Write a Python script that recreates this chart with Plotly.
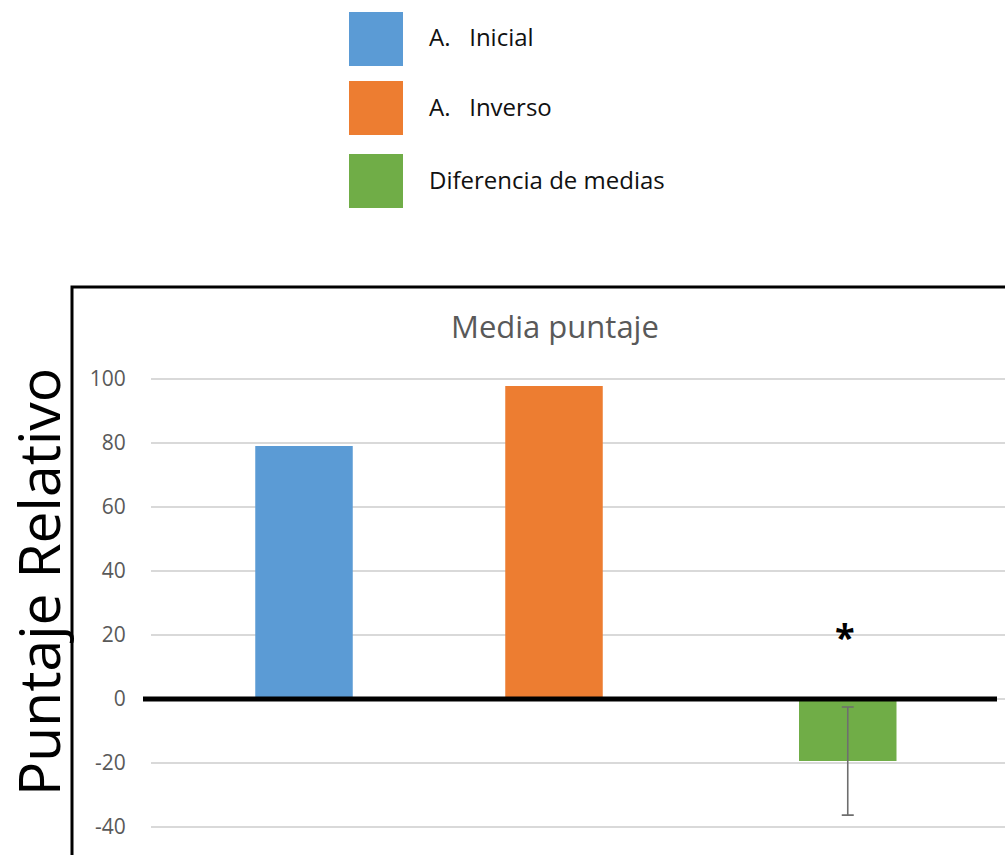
import plotly.graph_objects as go

# ---- data ----
categories = ["A. Inicial", "A. Inverso", "Diferencia de medias"]
legend_labels = ["A.\u00a0\u00a0\u00a0Inicial", "A.\u00a0\u00a0\u00a0Inverso", "Diferencia de medias"]
values = [79.1, 97.8, -19.4]
diff_error = 16.9          # error bar of the mean difference
signif_level = 19.6        # height of the significance asterisk
y_ticks = [-40, -20, 0, 20, 40, 60, 80, 100]

colors = ["#5B9BD5", "#ED7D31", "#70AD47"]

W, H = 1005, 855
FONT = "Open Sans"

def px_x(p):
    return p / W

def px_y(p):
    return 1 - p / H

# plot area geometry (pixels)
plot_left = 151
plot_top = 375.8
y_range = [-48.75, 101]

fig = go.Figure()

# blue and orange bars on their categories
for i in range(2):
    fig.add_trace(go.Bar(
        x=[categories[i]], y=[values[i]],
        marker=dict(color=colors[i], line=dict(width=0)),
        width=0.39, name=categories[i], showlegend=False,
    ))

# difference bar with its error bar, nudged right within its slot
fig.add_trace(go.Bar(
    x=[categories[2]], y=[values[2]],
    marker=dict(color=colors[2], line=dict(width=0)),
    width=0.39, offset=-0.02, name=categories[2], showlegend=False,
    error_y=dict(type="data", array=[diff_error], visible=True,
                 color="#6e6e6e", thickness=1.6, width=6),
))

fig.update_layout(
    width=W, height=H,
    margin=dict(l=0, r=0, t=0, b=0, pad=0),
    paper_bgcolor="white", plot_bgcolor="white",
    barmode="overlay",
    font=dict(family=FONT),
    xaxis=dict(
        domain=[px_x(plot_left), 1],
        type="category",
        categoryorder="array", categoryarray=categories,
        range=[-0.612, 2.804],
        showticklabels=False, showgrid=False, zeroline=False,
        showline=False, ticks="",
    ),
    yaxis=dict(
        domain=[0, px_y(plot_top)],
        range=y_range,
        tickmode="array", tickvals=y_ticks,
        ticktext=[str(v) for v in y_ticks],
        tickfont=dict(family=FONT, size=21, color="#595959"),
        ticks="outside", ticklen=20, tickcolor="rgba(0,0,0,0)",
        showgrid=True, gridcolor="#d9d9d9", gridwidth=1.5,
        zeroline=False, showline=False, automargin=False,
    ),
)

shapes = []
# outer chart border
shapes.append(dict(type="rect", xref="paper", yref="paper",
                   x0=px_x(72), x1=1.02, y0=-0.02, y1=px_y(287),
                   line=dict(color="black", width=3), fillcolor="rgba(0,0,0,0)",
                   layer="above"))
# heavy zero line
shapes.append(dict(type="line", xref="paper", yref="y",
                   x0=px_x(143), x1=px_x(997), y0=0, y1=0,
                   line=dict(color="black", width=5), layer="above"))

# custom legend swatches
legend_tops = [12, 81, 154]
for top, c in zip(legend_tops, colors):
    shapes.append(dict(type="rect", xref="paper", yref="paper",
                       x0=px_x(349), x1=px_x(403), y0=px_y(top + 54), y1=px_y(top),
                       fillcolor=c, line=dict(width=0)))
fig.update_layout(shapes=shapes)

annotations = []
for top, lab in zip(legend_tops, legend_labels):
    annotations.append(dict(xref="paper", yref="paper", x=px_x(427), y=px_y(top + 25),
                            xanchor="left", yanchor="middle", showarrow=False,
                            text=lab, font=dict(family=FONT, size=24, color="#111111")))

# chart title
annotations.append(dict(xref="paper", yref="paper", x=px_x(555), y=px_y(326),
                        xanchor="center", yanchor="middle", showarrow=False,
                        text="Media puntaje", font=dict(family=FONT, size=31, color="#595959")))

# vertical axis title
annotations.append(dict(xref="paper", yref="paper", x=px_x(38), y=px_y(582),
                        xanchor="center", yanchor="middle", showarrow=False,
                        textangle=-90, text="Puntaje Relativo",
                        font=dict(family=FONT, size=57, color="black")))

# significance marker above the difference bar
annotations.append(dict(xref="x", yref="y", x=2.165, y=signif_level,
                        xanchor="center", yanchor="middle", showarrow=False,
                        text="<b>*</b>", font=dict(family=FONT, size=36, color="black")))
fig.update_layout(annotations=annotations)

fig.write_html("out.html")
